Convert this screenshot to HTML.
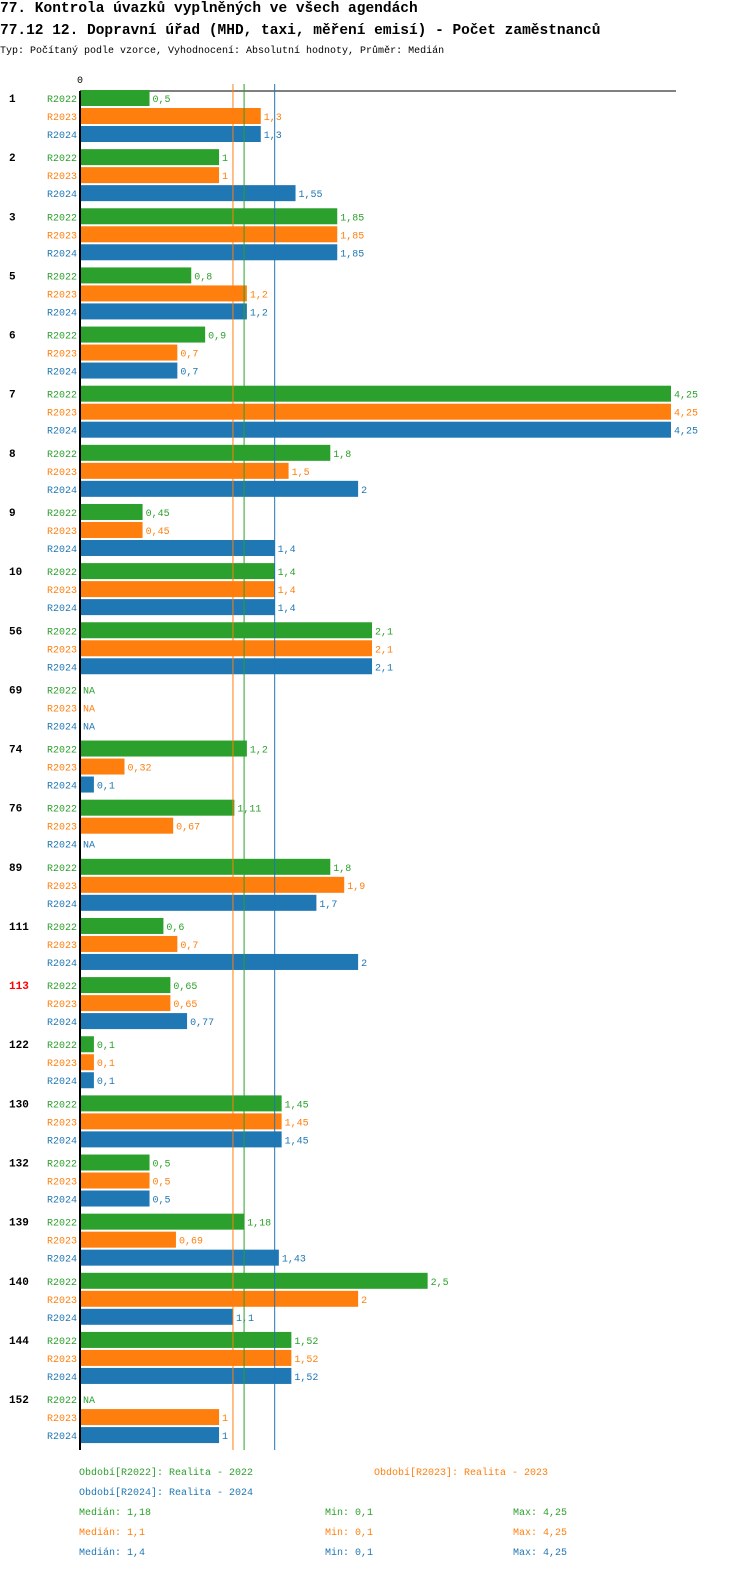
<!DOCTYPE html>
<html><head><meta charset="utf-8"><meta name="viewport" content="width=750, initial-scale=1"><style>
html,body{margin:0;padding:0;background:#fff;width:750px;height:1592px;overflow:hidden;position:relative}
svg{display:block;position:absolute;left:0;top:0;overflow:hidden}
svg text{font-family:"Liberation Mono","DejaVu Sans Mono",monospace}
</style></head><body>
<svg id="c" width="750" height="1592" viewBox="0 0 750 1592" xmlns="http://www.w3.org/2000/svg">
<text x="0" y="12" font-size="14.5" font-weight="bold" fill="#000">77. Kontrola úvazků vyplněných ve všech agendách</text>
<text x="0" y="34" font-size="14.5" font-weight="bold" fill="#000">77.12 12. Dopravní úřad (MHD, taxi, měření emisí) - Počet zaměstnanců</text>
<text x="0" y="53" font-size="10" fill="#000">Typ: Počítaný podle vzorce, Vyhodnocení: Absolutní hodnoty, Průměr: Medián</text>
</svg>
<script>
const categories=["1","2","3","5","6","7","8","9","10","56","69","74","76","89","111","113","122","130","132","139","140","144","152"];
const seriesNames=["R2022","R2023","R2024"];
const r2022=[0.5,1,1.85,0.8,0.9,4.25,1.8,0.45,1.4,2.1,null,1.2,1.11,1.8,0.6,0.65,0.1,1.45,0.5,1.18,2.5,1.52,null];
const r2023=[1.3,1,1.85,1.2,0.7,4.25,1.5,0.45,1.4,2.1,null,0.32,0.67,1.9,0.7,0.65,0.1,1.45,0.5,0.69,2,1.52,1];
const r2024=[1.3,1.55,1.85,1.2,0.7,4.25,2,1.4,1.4,2.1,null,0.1,null,1.7,2,0.77,0.1,1.45,0.5,1.43,1.1,1.52,1];
const medians=[1.18,1.1,1.4];
const mins=[0.1,0.1,0.1];
const maxs=[4.25,4.25,4.25];
const highlighted=["113"];
const colors=["#2ca02c","#ff7f0e","#1f77b4"];
const NS="http://www.w3.org/2000/svg";
const svg=document.getElementById('c');
const x0=80,xMax=4.25,xW=591;
const xs=v=>x0+v/xMax*xW;
const gy=i=>98+i*59.14;
function mk(tag,attrs,txt){const e=document.createElementNS(NS,tag);for(const k in attrs)e.setAttribute(k,attrs[k]);if(txt!==undefined)e.textContent=txt;svg.appendChild(e);return e;}
const fmt=v=>String(v).replace('.',',');
const data=[r2022,r2023,r2024];
let t=mk('text',{x:77,y:83,'font-size':10,fill:'#000'},'0');


let l=mk('line',{x1:x0,y1:91,x2:676,y2:91,stroke:'#000','stroke-width':1});


categories.forEach((c,i)=>{
  const g=gy(i);
  let ct=mk('text',{x:9,y:g+4,'font-size':11,'font-weight':'bold',fill:highlighted.includes(c)?'#f00':'#000'},c);
  
  
  data.forEach((arr,s)=>{
    const y=g+s*18;
    let lb=mk('text',{x:77,y:y+4,'font-size':10,fill:colors[s],'text-anchor':'end'},seriesNames[s]);
    
    
    const v=arr[i];
    if(v==null){
      let na=mk('text',{x:83,y:y+4,'font-size':10,fill:colors[s]},'NA');
      
      
      return;
    }
    let r=mk('rect',{x:x0,y:y-8,width:xs(v)-x0,height:16,fill:colors[s]});
    
    
    let vt=mk('text',{x:xs(v)+3,y:y+4,'font-size':10,fill:colors[s]},fmt(v));
    
    
  });
});
medians.forEach((m,s)=>{
  let ml=mk('line',{x1:xs(m),y1:84,x2:xs(m),y2:1450,stroke:colors[s],'stroke-width':1});
  
  
});
let ya=mk('line',{x1:x0,y1:91,x2:x0,y2:1450,stroke:'#000','stroke-width':2});


const legendPos=[[79,1475],[374,1475],[79,1495]];
seriesNames.forEach((n,s)=>{
  let lt=mk('text',{x:legendPos[s][0],y:legendPos[s][1],'font-size':10,fill:colors[s]},'Období['+n+']: Realita - '+n.slice(1));
  
  
  const y=1515+s*20;
  let a=mk('text',{x:79,y:y,'font-size':10,fill:colors[s]},'Medián: '+fmt(medians[s]));
  
  
  let b=mk('text',{x:325,y:y,'font-size':10,fill:colors[s]},'Min: '+fmt(mins[s]));
  
  
  let d=mk('text',{x:513,y:y,'font-size':10,fill:colors[s]},'Max: '+fmt(maxs[s]));
  
  
});
</script>
</body></html>
